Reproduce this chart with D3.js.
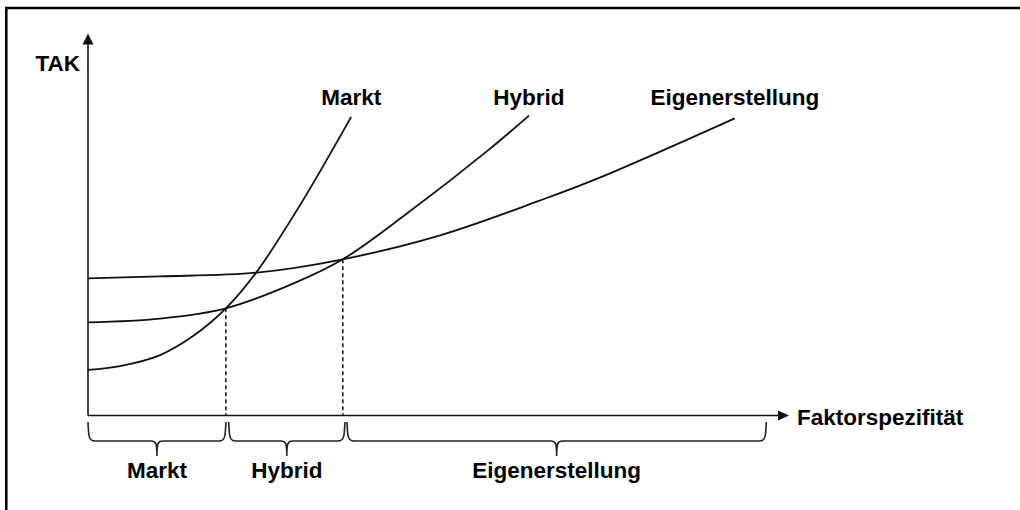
<!DOCTYPE html>
<html><head><meta charset="utf-8">
<script src="https://cdn.jsdelivr.net/npm/d3@7"></script>
<style>html,body{margin:0;padding:0;background:#fff}svg{display:block}</style>
</head><body>
<script>
// Data (abstract units: x = Faktorspezifität 0..100, y = TAK 0..100)
const marktX = [0, 4.57, 10.3, 15.0, 19.7, 24.1, 30.3, 37.6];
const marktY = [12.0, 13.0, 15.9, 20.9, 28.2, 37.8, 55.4, 78.6];
const hybridX = [0, 10.3, 19.7, 29.3, 36.4, 45.6, 57.1, 63.0];
const hybridY = [24.5, 25.5, 28.2, 34.7, 41.1, 53.2, 69.7, 78.9];
const eigenX = [0, 10.3, 24.1, 36.4, 50.3, 64.6, 73.1, 92.4];
const eigenY = [36.1, 36.6, 37.6, 41.1, 47.4, 56.6, 62.6, 78.2];
const seriesNames = ["Markt", "Hybrid", "Eigenerstellung"];
const crossX = [19.7, 36.4];          // intersections Markt/Hybrid, Hybrid/Eigen
const crossY = [28.2, 41.1];
const regionNames = ["Markt", "Hybrid", "Eigenerstellung"];
const regionBounds = [[0, 19.7], [20.1, 36.7], [37.0, 96.9]];
const axisLabelY = "TAK";
const axisLabelX = "Faktorspezifität";

const W = 1020, H = 510;
const svg = d3.select("body").append("svg").attr("width", W).attr("height", H);
const x = d3.scaleLinear().domain([0, 100]).range([88, 788]);
const y = d3.scaleLinear().domain([0, 100]).range([415.5, 35.5]);
const ink = "#111";
const font = "'Liberation Sans', Arial, Helvetica, sans-serif";
const fs = 22.5;

// frame (top and left edges)
svg.append("line").attr("x1", 5).attr("x2", W).attr("y1", 8).attr("y2", 8)
  .attr("stroke", "#000").attr("stroke-width", 2.5);
svg.append("line").attr("x1", 6.3).attr("x2", 6.3).attr("y1", 7).attr("y2", H)
  .attr("stroke", "#000").attr("stroke-width", 2.5);

// axes
svg.append("line").attr("x1", x(0)).attr("x2", x(0)).attr("y1", y(0)).attr("y2", y(100) + 8)
  .attr("stroke", ink).attr("stroke-width", 1.6);
svg.append("line").attr("x1", x(0)).attr("x2", x(100) - 8).attr("y1", y(0)).attr("y2", y(0))
  .attr("stroke", ink).attr("stroke-width", 1.6);
svg.append("path")
  .attr("d", `M${x(0)},${y(100) - 2} L${x(0) - 5.5},${y(100) + 9} L${x(0) + 5.5},${y(100) + 9} Z`)
  .attr("fill", ink);
svg.append("path")
  .attr("d", `M${x(100) + 1},${y(0)} L${x(100) - 10},${y(0) - 5} L${x(100) - 10},${y(0) + 5} Z`)
  .attr("fill", ink);

// curves
const line = d3.line().x(d => x(d[0])).y(d => y(d[1])).curve(d3.curveCatmullRom.alpha(0.5));
const series = [
  d3.zip(marktX, marktY),
  d3.zip(hybridX, hybridY),
  d3.zip(eigenX, eigenY)
];
svg.selectAll("path.curve").data(series).join("path")
  .attr("class", "curve").attr("d", line)
  .attr("fill", "none").attr("stroke", ink).attr("stroke-width", 1.8);

// dashed drop lines
svg.selectAll("line.drop").data(d3.zip(crossX, crossY)).join("line")
  .attr("class", "drop")
  .attr("x1", d => x(d[0])).attr("x2", d => x(d[0]))
  .attr("y1", d => y(d[1])).attr("y2", y(0))
  .attr("stroke", ink).attr("stroke-width", 1.5).attr("stroke-dasharray", "4,3");

// curve labels
const labelPos = [[37.6, 105], [63.0, 105], [92.4, 105]];
svg.selectAll("text.slab").data(seriesNames).join("text")
  .attr("class", "slab")
  .attr("x", (d, i) => x(labelPos[i][0]))
  .attr("y", (d, i) => labelPos[i][1])
  .attr("text-anchor", "middle")
  .attr("font-family", font).attr("font-weight", "bold").attr("font-size", fs)
  .attr("fill", "#000").text(d => d);

// axis labels
svg.append("text").attr("x", x(0) - 8).attr("y", 71).attr("text-anchor", "end")
  .attr("font-family", font).attr("font-weight", "bold").attr("font-size", fs)
  .attr("fill", "#000").text(axisLabelY);
svg.append("text").attr("x", x(100) + 9).attr("y", 425)
  .attr("font-family", font).attr("font-weight", "bold").attr("font-size", fs)
  .attr("fill", "#000").text(axisLabelX);

// braces
const yt = 422, yh = 441, yb = 456;
function brace(a, b) {
  const x0 = x(a), x1 = x(b), m = (x0 + x1) / 2;
  return `M${x0},${yt} C${x0 + 0.5},${yh - 4} ${x0 + 1},${yh} ${x0 + 7},${yh}` +
    ` L${m - 6},${yh} C${m - 1},${yh} ${m},${yh + 2} ${m},${yb}` +
    ` C${m},${yh + 2} ${m + 1},${yh} ${m + 6},${yh}` +
    ` L${x1 - 7},${yh} C${x1 - 1},${yh} ${x1 - 0.5},${yh - 4} ${x1},${yt}`;
}
svg.selectAll("path.brace").data(regionBounds).join("path")
  .attr("class", "brace").attr("d", d => brace(d[0], d[1]))
  .attr("fill", "none").attr("stroke", "#222").attr("stroke-width", 1.6);

svg.selectAll("text.rlab").data(regionNames).join("text")
  .attr("class", "rlab")
  .attr("x", (d, i) => (x(regionBounds[i][0]) + x(regionBounds[i][1])) / 2)
  .attr("y", 478)
  .attr("text-anchor", "middle")
  .attr("font-family", font).attr("font-weight", "bold").attr("font-size", fs)
  .attr("fill", "#000").text(d => d);
</script>
</body></html>
